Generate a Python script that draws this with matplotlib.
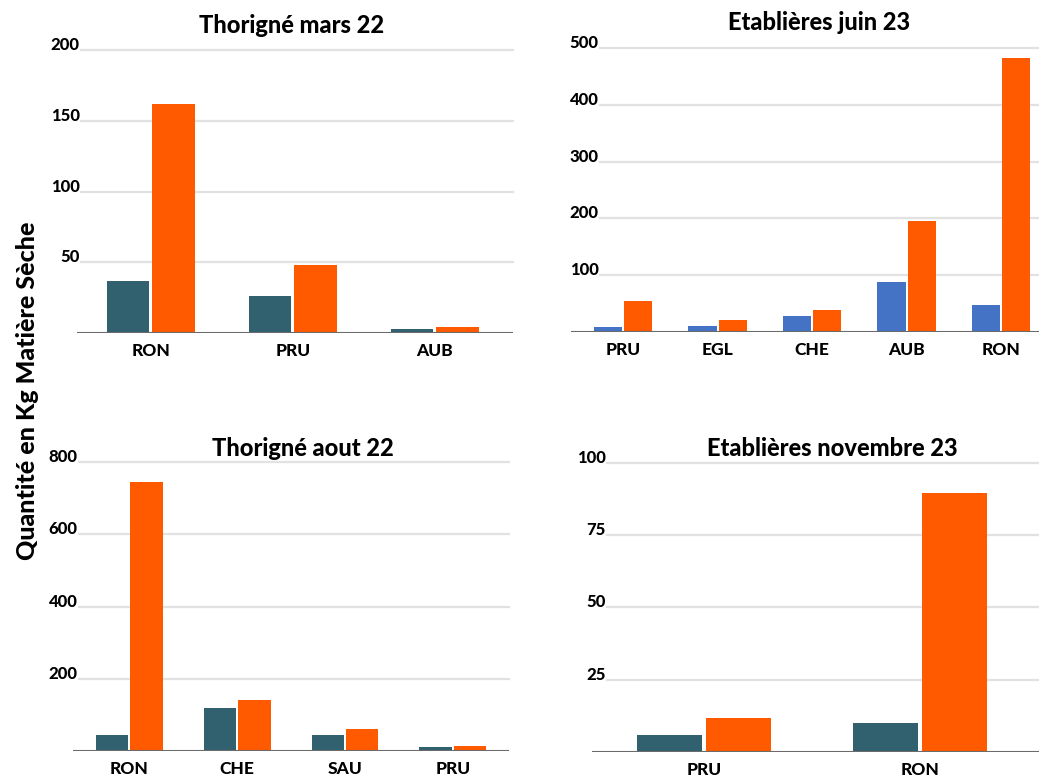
import matplotlib
matplotlib.use("Agg")
import matplotlib.pyplot as plt

plt.rcParams['font.family'] = ['Lato', 'DejaVu Sans']

TEAL = "#31606F"
BLUE = "#4472C4"
ORANGE = "#FF5A00"
WEIGHT = 900

# data
mars22_cats = ["RON", "PRU", "AUB"]
mars22_a = [37, 26, 3]
mars22_b = [162, 48, 4.5]

juin23_cats = ["PRU", "EGL", "CHE", "AUB", "RON"]
juin23_a = [9, 11, 28, 88, 48]
juin23_b = [54, 22, 39, 196, 482]

aout22_cats = ["RON", "CHE", "SAU", "PRU"]
aout22_a = [44, 119, 44, 11]
aout22_b = [744, 142, 60, 15]

nov23_cats = ["PRU", "RON"]
nov23_a = [6, 10]
nov23_b = [12, 89.5]


def draw_panel(rect, cats, vals_a, vals_b, color_a, title, yticks, xlim,
               grid_px, title_x, title_dy):
    ax = fig.add_axes(rect)
    x = list(range(len(cats)))
    w = 0.30
    ax.bar([i - 0.16 for i in x], vals_a, width=w, color=color_a, zorder=3,
           clip_on=False)
    ax.bar([i + 0.16 for i in x], vals_b, width=w, color=ORANGE, zorder=3,
           clip_on=False)
    ax.set_xlim(*xlim)
    ax.set_ylim(0, yticks[-1])
    ax_w_px = rect[2] * fig.bbox.width
    gstart = grid_px / ax_w_px
    for v in yticks[1:]:
        ax.axhline(v, xmin=gstart, color="#e2e2e2", lw=1.6, zorder=1,
                   clip_on=False)
    ax.axhline(0, color="#6b6b6b", lw=1.5, zorder=4)
    ax.set_yticks(yticks[1:])
    ax.set_yticklabels([str(v) for v in yticks[1:]], fontsize=12,
                       fontweight=WEIGHT)
    for lab in ax.get_yticklabels():
        lab.set_va('baseline')
    ax.tick_params(axis='y', length=0, pad=-grid_px * 0.72 + 1)
    ax.set_xticks(x)
    ax.set_xticklabels(cats, fontsize=12.5, fontweight=WEIGHT)
    ax.tick_params(axis='x', length=0, pad=7)
    for s in ax.spines.values():
        s.set_visible(False)
    ax.annotate(title, xy=(title_x, 1), xycoords='axes fraction',
                xytext=(0, title_dy), textcoords='offset points',
                ha='center', va='baseline', fontsize=17, fontweight=WEIGHT)
    return ax


fig = plt.figure(figsize=(10.39, 7.79), dpi=100)

draw_panel([0.0741, 0.5725, 0.4196, 0.3633], mars22_cats, mars22_a, mars22_b,
           TEAL, "Thorigné mars 22", [0, 50, 100, 150, 200], (-0.52, 2.55),
           4, 0.493, 12)
draw_panel([0.5496, 0.5738, 0.4504, 0.3646], juin23_cats, juin23_a, juin23_b,
           BLUE, "Etablières juin 23", [0, 100, 200, 300, 400, 500],
           (-0.55, 4.40), 29, 0.53, 13)
draw_panel([0.0703, 0.0359, 0.4196, 0.3710], aout22_cats, aout22_a, aout22_b,
           TEAL, "Thorigné aout 22", [0, 200, 400, 600, 800], (-0.52, 3.52),
           6, 0.528, 4.3)
draw_panel([0.5698, 0.0343, 0.4302, 0.3718], nov23_cats, nov23_a, nov23_b,
           TEAL, "Etablières novembre 23", [0, 25, 50, 75, 100],
           (-0.52, 1.55), 15, 0.537, 4.8)

fig.text(0.026, 0.499, "Quantité en Kg Matière Sèche", rotation=90,
         ha='center', va='center', fontsize=18, fontweight=WEIGHT)

fig.savefig("out.png", dpi=100, facecolor="white")
